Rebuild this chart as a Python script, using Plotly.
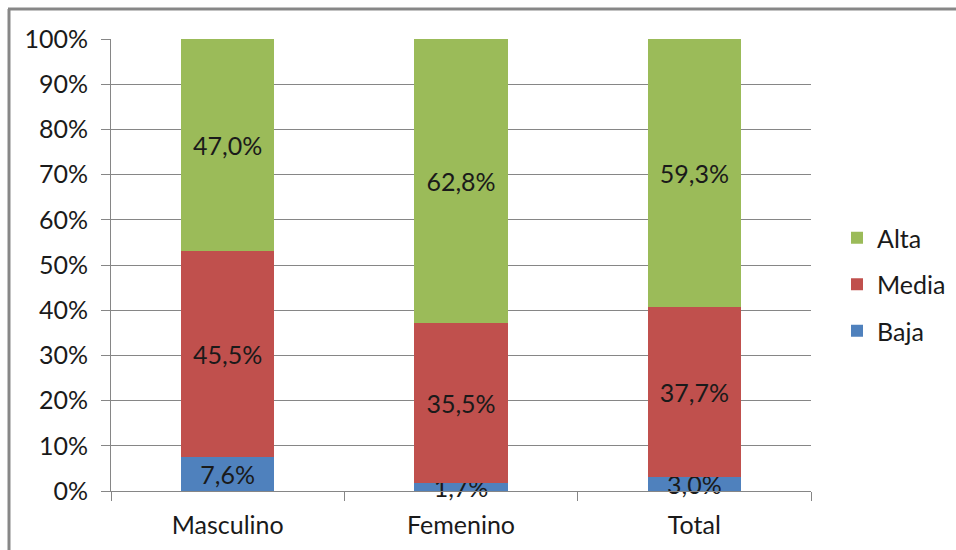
import plotly.graph_objects as go

# Nivel por sexo (porcentaje de cada categoría)
categorias = ["Masculino", "Femenino", "Total"]
baja = [7.6, 1.7, 3.0]
media = [45.5, 35.5, 37.7]
alta = [47.0, 62.8, 59.3]
y_ticks = list(range(0, 101, 10))
y_tick_labels = [f"{v}%" for v in y_ticks]

colores = {"Baja": "#4F81BD", "Media": "#C0504D", "Alta": "#9BBB59"}
orden_leyenda = {"Alta": 1, "Media": 2, "Baja": 3}
FONT = "Lato, Calibri, 'Open Sans', sans-serif"
FS = 25

fig = go.Figure()
for nombre, valores in (("Baja", baja), ("Media", media), ("Alta", alta)):
    fig.add_trace(go.Bar(
        name=nombre,
        x=categorias,
        y=valores,
        customdata=valores,
        marker=dict(color=colores[nombre], line=dict(width=0)),
        texttemplate="%{customdata:.1f}%",
        textposition="inside",
        insidetextanchor="middle",
        textangle=0,
        constraintext="none",
        textfont=dict(family=FONT, size=FS, color="#1a1a1a"),
        legendgroup=nombre,
        legendrank=orden_leyenda[nombre],
        # la etiqueta de la serie inferior puede sobresalir del eje
        cliponaxis=False,
    ))

W, H = 956, 550
L, R, T, B = 111, 145, 39, 59
pw, ph = W - L - R, H - T - B

def px_x(x):
    return (x - L) / pw

def px_y(y):
    return (H - B - y) / ph

fig.update_layout(
    width=W, height=H,
    margin=dict(l=L, r=R, t=T, b=B, autoexpand=False),
    barmode="stack",
    barnorm="percent",
    bargap=0.6,
    separators=",.",
    paper_bgcolor="white",
    plot_bgcolor="white",
    font=dict(family=FONT, size=FS, color="#1a1a1a"),
    uniformtext=dict(minsize=FS, mode="show"),
    showlegend=True,
    legend=dict(
        x=px_x(837), y=px_y(215), xanchor="left", yanchor="top",
        traceorder="grouped", tracegroupgap=11,
        font=dict(family=FONT, size=FS, color="#1a1a1a"),
        bgcolor="rgba(0,0,0,0)",
        itemclick=False,
    ),
    xaxis=dict(
        showgrid=False,
        showline=True, linecolor="#868686", linewidth=1,
        ticks="outside", tickson="boundaries", ticklen=9,
        tickcolor="#868686", tickwidth=1,
        ticklabelstandoff=12,
        tickfont=dict(family=FONT, size=FS, color="#1a1a1a"),
        fixedrange=True,
    ),
    yaxis=dict(
        range=[0, 100],
        tickmode="array",
        tickvals=y_ticks,
        ticktext=y_tick_labels,
        showgrid=True, gridcolor="#868686", gridwidth=1,
        showline=True, linecolor="#868686", linewidth=1,
        ticks="outside", ticklen=9, tickcolor="#868686", tickwidth=1,
        ticklabelstandoff=8,
        tickfont=dict(family=FONT, size=FS, color="#1a1a1a"),
        zeroline=False,
        fixedrange=True,
    ),
    shapes=[
        dict(type="line", xref="paper", yref="paper",
             x0=px_x(9), x1=px_x(9), y0=px_y(560), y1=px_y(9),
             line=dict(color="#878787", width=3)),
        dict(type="line", xref="paper", yref="paper",
             x0=px_x(8), x1=px_x(970), y0=px_y(9), y1=px_y(9),
             line=dict(color="#878787", width=3)),
    ],
)

fig.write_html("out.html", config={"displayModeBar": False})
